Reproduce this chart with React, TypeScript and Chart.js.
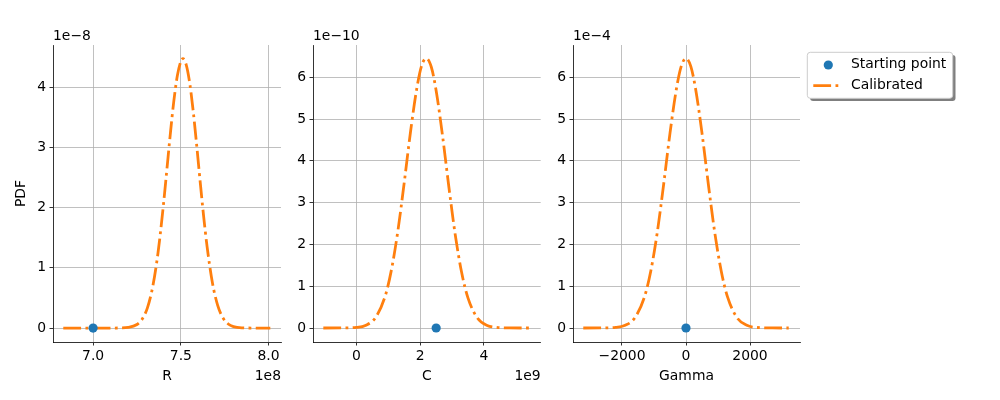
import { useEffect, useRef } from 'react';
import { Chart, registerables } from 'chart.js';

Chart.register(...registerables);

// ---------- Data ----------
// Panel R: x in units of 1e8, PDF in units of 1e-8
const R_X = [6.83, 7.0, 7.1, 7.15, 7.2, 7.25, 7.28, 7.31, 7.34, 7.37, 7.4, 7.42, 7.44, 7.46, 7.48, 7.5, 7.512, 7.53, 7.55, 7.57, 7.59, 7.61, 7.63, 7.65, 7.68, 7.71, 7.74, 7.77, 7.8, 7.85, 7.9, 8.01];
const R_PDF = [0, 0, 0.0001, 0.0011, 0.0096, 0.059, 0.15, 0.34, 0.691, 1.251, 2.025, 2.62, 3.222, 3.769, 4.19, 4.43, 4.475, 4.38, 4.081, 3.615, 3.045, 2.438, 1.856, 1.344, 0.752, 0.376, 0.168, 0.067, 0.024, 0.0033, 0.0003, 0];
const R_START_X = [7.0];
const R_START_Y = [0];
const R_X_TICKS = [7.0, 7.5, 8.0];
const R_Y_TICKS = [0, 1, 2, 3, 4];

// Panel C: x in units of 1e9, PDF in units of 1e-10
const C_X = [-1.04, -0.5, 0, 0.3, 0.6, 0.9, 1.1, 1.3, 1.5, 1.7, 1.9, 2.05, 2.19, 2.35, 2.5, 2.7, 2.9, 3.1, 3.3, 3.5, 3.8, 4.1, 4.4, 4.8, 5.42];
const C_PDF = [0, 0.0006, 0.0138, 0.0664, 0.252, 0.763, 1.403, 2.329, 3.49, 4.721, 5.765, 6.29, 6.45, 6.24, 5.677, 4.602, 3.368, 2.224, 1.326, 0.714, 0.233, 0.06, 0.0124, 0.001, 0];
const C_START_X = [2.5];
const C_START_Y = [0];
const C_X_TICKS = [0, 2, 4];
const C_Y_TICKS = [0, 1, 2, 3, 4, 5, 6];

// Panel Gamma: x in raw units, PDF in units of 1e-4
const G_X = [-3210, -2700, -2200, -1900, -1600, -1300, -1100, -900, -700, -500, -300, -150, 0, 150, 300, 500, 700, 900, 1100, 1300, 1600, 1900, 2200, 2700, 3210];
const G_PDF = [0, 0.0006, 0.0131, 0.0632, 0.242, 0.738, 1.364, 2.276, 3.429, 4.662, 5.721, 6.26, 6.45, 6.26, 5.721, 4.662, 3.429, 2.276, 1.364, 0.738, 0.242, 0.0632, 0.0131, 0.0006, 0];
const G_START_X = [0];
const G_START_Y = [0];
const G_X_TICKS = [-2000, 0, 2000];
const G_Y_TICKS = [0, 1, 2, 3, 4, 5, 6];

const LABEL_START = 'Starting point';
const LABEL_CALIB = 'Calibrated';

// ---------- Styling ----------
const FONT = '"DejaVu Sans", sans-serif';
const FS = 13.9;
const BLUE = '#1f77b4';
const ORANGE = '#ff7f0e';
const DASH = [17.8, 4.4, 2.8, 4.4];
const LW = 2.78;

const fmtSigned = (v: number) => (v < 0 ? '\u2212' + Math.abs(v) : String(v));

type PanelCfg = {
  left: number;
  width: number;
  yAxisW: number;
  padRight: number;
  xs: number[];
  ys: number[];
  sx: number[];
  sy: number[];
  xTicks: number[];
  yTicks: number[];
  xMin: number;
  xMax: number;
  yMin: number;
  yMax: number;
  xTitle: string;
  yTitle?: string;
  xOffset?: string;
  yOffset: string;
  xFmt: (v: number) => string;
  legend?: boolean;
};

const PANELS: PanelCfg[] = [
  {
    left: 0, width: 290, yAxisW: 53, padRight: 9,
    xs: R_X, ys: R_PDF, sx: R_START_X, sy: R_START_Y,
    xTicks: R_X_TICKS, yTicks: R_Y_TICKS,
    xMin: 6.7714, xMax: 8.0709, yMin: -0.232, yMax: 4.702,
    xTitle: 'R', yTitle: 'PDF', xOffset: '1e8', yOffset: '1e\u22128',
    xFmt: (v) => v.toFixed(1),
  },
  {
    left: 290, width: 260, yAxisW: 23, padRight: 9.3,
    xs: C_X, ys: C_PDF, sx: C_START_X, sy: C_START_Y,
    xTicks: C_X_TICKS, yTicks: C_Y_TICKS,
    xMin: -1.364, xMax: 5.78, yMin: -0.335, yMax: 6.772,
    xTitle: 'C', xOffset: '1e9', yOffset: '1e\u221210',
    xFmt: fmtSigned,
  },
  {
    left: 550, width: 450, yAxisW: 23, padRight: 200,
    xs: G_X, ys: G_PDF, sx: G_START_X, sy: G_START_Y,
    xTicks: G_X_TICKS, yTicks: G_Y_TICKS,
    xMin: -3531, xMax: 3562, yMin: -0.335, yMax: 6.772,
    xTitle: 'Gamma', yOffset: '1e\u22124',
    xFmt: fmtSigned, legend: true,
  },
];

function makeDecor(p: PanelCfg) {
  return {
    id: 'decor',
    afterDraw(chart: any) {
      const { ctx, chartArea } = chart;
      ctx.save();
      ctx.font = `${FS}px ${FONT}`;
      ctx.fillStyle = '#000';
      ctx.textBaseline = 'middle';
      ctx.textAlign = 'left';
      ctx.fillText(p.yOffset, chartArea.left, 36.7);
      if (p.xOffset) {
        ctx.textAlign = 'right';
        ctx.fillText(p.xOffset, chartArea.right, 376.7);
      }
      if (p.legend) {
        const bx = chartArea.right + 7.3;
        const by = 52.3;
        const bw = 145.4;
        const bh = 46;
        const r = 3;
        const rr = (x: number, y: number) => {
          ctx.beginPath();
          ctx.moveTo(x + r, y);
          ctx.lineTo(x + bw - r, y);
          ctx.quadraticCurveTo(x + bw, y, x + bw, y + r);
          ctx.lineTo(x + bw, y + bh - r);
          ctx.quadraticCurveTo(x + bw, y + bh, x + bw - r, y + bh);
          ctx.lineTo(x + r, y + bh);
          ctx.quadraticCurveTo(x, y + bh, x, y + bh - r);
          ctx.lineTo(x, y + r);
          ctx.quadraticCurveTo(x, y, x + r, y);
          ctx.closePath();
        };
        // shadow
        rr(bx + 2.8, by + 2.8);
        ctx.fillStyle = 'rgba(0,0,0,0.5)';
        ctx.fill();
        // box
        rr(bx, by);
        ctx.fillStyle = '#ffffff';
        ctx.fill();
        ctx.strokeStyle = '#cccccc';
        ctx.lineWidth = 1;
        ctx.stroke();
        // marker
        ctx.beginPath();
        ctx.arc(bx + 21, 65, 4.6, 0, Math.PI * 2);
        ctx.fillStyle = BLUE;
        ctx.fill();
        // line
        ctx.beginPath();
        ctx.setLineDash(DASH);
        ctx.lineCap = 'butt';
        ctx.moveTo(bx + 6, 85.7);
        ctx.lineTo(bx + 33.8, 85.7);
        ctx.strokeStyle = ORANGE;
        ctx.lineWidth = LW;
        ctx.stroke();
        ctx.setLineDash([]);
        // texts
        ctx.fillStyle = '#000';
        ctx.textAlign = 'left';
        ctx.textBaseline = 'middle';
        ctx.fillText(LABEL_START, bx + 43.7, 64.5);
        ctx.fillText(LABEL_CALIB, bx + 43.7, 85.3);
      }
      ctx.restore();
    },
  };
}

function buildChart(canvas: HTMLCanvasElement, p: PanelCfg) {
  const font = { family: FONT, size: FS };
  return new Chart(canvas, {
    type: 'line',
    data: {
      datasets: [
        {
          type: 'scatter',
          label: LABEL_START,
          data: p.sx.map((x, i) => ({ x, y: p.sy[i] })),
          backgroundColor: BLUE,
          borderWidth: 0,
          pointRadius: 4.6,
          order: 0,
        } as any,
        {
          type: 'line',
          label: LABEL_CALIB,
          data: p.xs.map((x, i) => ({ x, y: p.ys[i] })),
          borderColor: ORANGE,
          borderWidth: LW,
          borderDash: DASH,
          borderCapStyle: 'butt',
          pointRadius: 0,
          fill: false,
          cubicInterpolationMode: 'monotone',
          order: 1,
        } as any,
      ],
    },
    options: {
      animation: false,
      responsive: false,
      devicePixelRatio: 1,
      events: [],
      layout: { padding: { left: 0, top: 45, right: p.padRight, bottom: 0 } },
      plugins: { legend: { display: false }, tooltip: { enabled: false } },
      scales: {
        x: {
          type: 'linear',
          min: p.xMin,
          max: p.xMax,
          afterBuildTicks: (s: any) => { s.ticks = p.xTicks.map((v) => ({ value: v })); },
          afterFit: (s: any) => { s.height = 58; },
          ticks: {
            autoSkip: false,
            maxRotation: 0,
            color: '#000',
            font,
            padding: 3,
            callback: (v: any) => p.xFmt(Number(v)),
          },
          grid: { color: '#b0b0b0', lineWidth: 0.8, tickColor: '#000', tickWidth: 0.8, tickLength: 3.5 },
          border: { display: true, color: '#000', width: 0.8 },
          title: { display: true, text: p.xTitle, color: '#000', font, padding: { top: 0, bottom: 15 } },
        },
        y: {
          type: 'linear',
          min: p.yMin,
          max: p.yMax,
          afterBuildTicks: (s: any) => { s.ticks = p.yTicks.map((v) => ({ value: v })); },
          afterFit: (s: any) => { s.width = p.yAxisW; },
          ticks: {
            autoSkip: false,
            color: '#000',
            font,
            padding: 3.5,
            callback: (v: any) => String(v),
          },
          grid: { color: '#b0b0b0', lineWidth: 0.8, tickColor: '#000', tickWidth: 0.8, tickLength: 3.5 },
          border: { display: true, color: '#000', width: 0.8 },
          title: {
            display: !!p.yTitle,
            text: p.yTitle || '',
            color: '#000',
            font,
            padding: { top: 13.4, bottom: 0 },
          },
        },
      },
    } as any,
    plugins: [makeDecor(p)],
  });
}

export default function App() {
  const refs = [
    useRef<HTMLCanvasElement>(null),
    useRef<HTMLCanvasElement>(null),
    useRef<HTMLCanvasElement>(null),
  ];

  useEffect(() => {
    const charts = PANELS.map((p, i) => buildChart(refs[i].current as HTMLCanvasElement, p));
    return () => charts.forEach((c) => c.destroy());
  }, []);

  return (
    <div style={{ position: 'absolute', left: 0, top: 0, width: 1000, height: 400, background: '#fff', overflow: 'hidden' }}>
      {PANELS.map((p, i) => (
        <canvas
          key={i}
          ref={refs[i]}
          width={p.width}
          height={400}
          style={{ position: 'absolute', left: p.left, top: 0, width: p.width, height: 400, display: 'block' }}
        />
      ))}
    </div>
  );
}
